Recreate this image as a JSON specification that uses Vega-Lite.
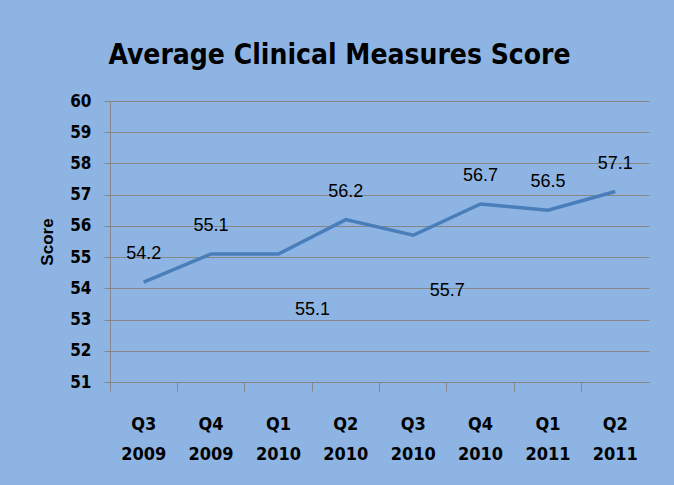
{
  "$schema": "https://vega.github.io/schema/vega-lite/v6.json",
  "width": 539,
  "height": 281,
  "autosize": {"type": "none"},
  "padding": {"left": 110, "top": 101, "right": 25, "bottom": 103},
  "background": "#8DB4E2",
  "title": {
    "text": "Average Clinical Measures Score",
    "anchor": "middle",
    "frame": "group",
    "dx": -40,
    "offset": 0,
    "baseline": "alphabetic",
    "font": "DejaVu Sans Condensed, Liberation Sans Narrow, Liberation Sans",
    "fontSize": 28,
    "fontWeight": "bold",
    "color": "#000000"
  },
  "config": {
    "view": {"stroke": null},
    "axis": {
      "domainColor": "#868686",
      "tickColor": "#868686",
      "gridColor": "#868686",
      "gridWidth": 1,
      "domainWidth": 1,
      "labelColor": "#000000",
      "titleColor": "#000000"
    }
  },
  "data": {
    "values": [
      {"period": "Q3 2009", "score": 54.2},
      {"period": "Q4 2009", "score": 55.1},
      {"period": "Q1 2010", "score": 55.1},
      {"period": "Q2 2010", "score": 56.2},
      {"period": "Q3 2010", "score": 55.7},
      {"period": "Q4 2010", "score": 56.7},
      {"period": "Q1 2011", "score": 56.5},
      {"period": "Q2 2011", "score": 57.1}
    ]
  },
  "encoding": {
    "x": {
      "field": "period",
      "type": "ordinal",
      "sort": null,
      "bandPosition": 0.5,
      "scale": {"type": "band", "paddingInner": 0, "paddingOuter": 0},
      "axis": {
        "title": null,
        "bandPosition": 0,
        "labelAngle": 0,
        "labelDx": 33.7,
        "labelExpr": "split(datum.label, ' ')",
        "labelLineHeight": 30,
        "labelBaseline": "top",
        "labelFont": "DejaVu Sans Condensed, Liberation Sans Narrow, Liberation Sans",
        "labelFontSize": 18,
        "labelFontWeight": "bold",
        "tickSize": 9,
        "labelPadding": 24,
        "grid": false
      }
    },
    "y": {
      "field": "score",
      "type": "quantitative",
      "scale": {"domain": [51, 60], "nice": false, "zero": false},
      "axis": {
        "title": "Score",
        "values": [51, 52, 53, 54, 55, 56, 57, 58, 59, 60],
        "tickSize": 6,
        "labelPadding": 13,
        "labelFont": "DejaVu Sans Condensed, Liberation Sans Narrow, Liberation Sans",
        "labelFontSize": 17,
        "labelFontWeight": "bold",
        "titleFont": "Liberation Sans",
        "titleFontSize": 17,
        "titleFontWeight": "bold",
        "titleX": -63,
        "titleY": 140.5,
        "titleAngle": -90,
        "titleAlign": "center",
        "titleBaseline": "middle",
        "grid": true
      }
    }
  },
  "layer": [
    {
      "mark": {"type": "line", "color": "#4A7EBB", "strokeWidth": 3.5}
    },
    {
      "transform": [{"filter": "datum.period != 'Q1 2010' && datum.period != 'Q3 2010'"}],
      "mark": {"type": "text", "dy": -28, "font": "Liberation Sans", "fontSize": 18, "color": "#000000", "baseline": "middle"},
      "encoding": {"text": {"field": "score", "type": "quantitative", "format": ".1f"}}
    },
    {
      "transform": [{"filter": "datum.period == 'Q1 2010' || datum.period == 'Q3 2010'"}],
      "mark": {"type": "text", "dy": 56, "dx": 34, "font": "Liberation Sans", "fontSize": 18, "color": "#000000", "baseline": "middle"},
      "encoding": {"text": {"field": "score", "type": "quantitative", "format": ".1f"}}
    }
  ]
}
